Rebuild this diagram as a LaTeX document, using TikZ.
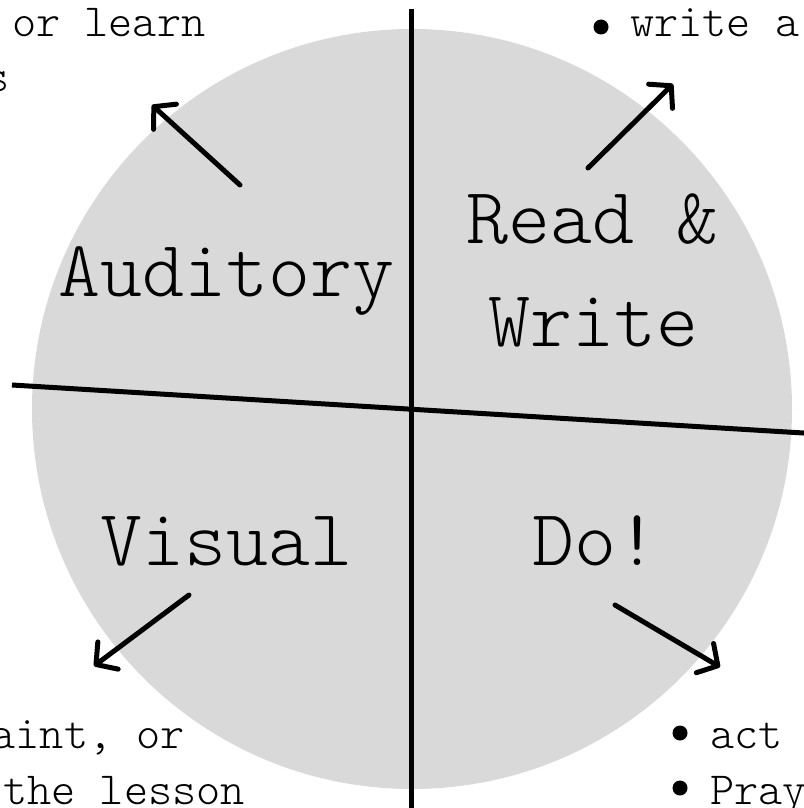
\documentclass[tikz,border=0pt]{standalone}
\usepackage{fontspec}
\usetikzlibrary{arrows.meta}
\newfontfamily\slabfont{lmmonolt10-regular.otf}
\definecolor{discgray}{HTML}{D9D9D9}
\newcommand{\slabmain}{\slabfont\fontsize{80}{96}\selectfont}
\newcommand{\slabside}{\slabfont\fontsize{46}{56}\selectfont}
\tikzset{
  mainlabel/.style={inner sep=0pt, anchor=base, font=\slabmain},
  sidetext/.style={inner sep=0pt, font=\slabside},
  divider/.style={line width=5pt, black},
  pointer/.style={line width=5pt, line cap=round, -{Straight Barb[length=15pt,width=34pt,round]}},
  bulletdot/.style={circle, fill=black, inner sep=0pt, minimum size=15pt}
}
\begin{document}
\begin{tikzpicture}[x=1pt,y=-1pt]
\useasboundingbox (0,0) rectangle (803,808);
% disc
\fill[discgray] (412,409) circle[radius=380];
% dividers
\coordinate (vtop) at (411,9);
\coordinate (vbot) at (411,815);
\coordinate (hleft) at (12,385);
\coordinate (hright) at (815,433.7);
\draw[divider] (vtop) -- (vbot);
\draw[divider] (hleft) -- (hright);
% quadrant labels
\node[mainlabel] (aud) at (226,296) {Auditory};
\node[mainlabel] (read) at (592,243) {Read \&};
\node[mainlabel] (write) at (593,346) {Write};
\node[mainlabel] (vis) at (226,565) {Visual};
\node[mainlabel] (do) at (595,565) {Do!};
% side texts
\node[sidetext, anchor=base west] (tl1) at (12,37) {or learn};
\node[sidetext, anchor=base west] (tl2) at (-15,92) {s};
\node[bulletdot] (b1) at (601,27) {};
\node[sidetext, anchor=base west] (tr1) at (630,37) {write a};
\node[sidetext, anchor=base east] (bl1) at (185,748) {paint, or};
\node[sidetext, anchor=base east] (bl2) at (245,804) {the lesson};
\node[bulletdot] (b2) at (680,733) {};
\node[sidetext, anchor=base west] (br1) at (710,748) {act};
\node[bulletdot] (b3) at (680,788) {};
\node[sidetext, anchor=base west] (br2) at (710,804) {Pray};
% arrows
\coordinate (a1s) at (240,185);
\coordinate (a1e) at (152,105);
\coordinate (a2s) at (588,168);
\coordinate (a2e) at (673,84);
\coordinate (a3s) at (189,595);
\coordinate (a3e) at (94,666);
\coordinate (a4s) at (615,605);
\coordinate (a4e) at (720,667);
\draw[pointer] (a1s) -- (a1e);
\draw[pointer] (a2s) -- (a2e);
\draw[pointer] (a3s) -- (a3e);
\draw[pointer] (a4s) -- (a4e);
\end{tikzpicture}
\end{document}
